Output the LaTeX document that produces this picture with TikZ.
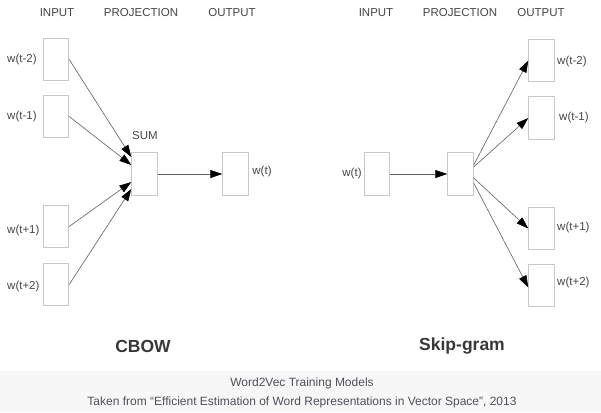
\documentclass[tikz,border=0pt]{standalone}
\usepackage{fontspec}
\setmainfont{Liberation Sans}
\usetikzlibrary{arrows.meta}
\definecolor{boxline}{RGB}{200,200,200}
\definecolor{conncol}{RGB}{95,95,95}
\definecolor{txt}{RGB}{70,70,70}
\definecolor{capbg}{RGB}{247,247,247}
\definecolor{captxt}{RGB}{80,80,90}
\tikzset{
  vec/.style={draw=boxline, line width=0.9bp, minimum width=25.5bp, minimum height=42.5bp, inner sep=0pt},
  lbl/.style={text=txt, font=\fontsize{11.5bp}{13bp}\selectfont, inner sep=0pt},
  ttl/.style={text=txt!80!black, font=\fontsize{17.5bp}{20bp}\selectfont\bfseries, inner sep=0pt},
  captext/.style={text=captxt, font=\fontsize{12bp}{14bp}\selectfont, inner sep=0pt},
  arrowline/.style={draw=conncol, line width=0.6bp, -{Triangle[length=12bp,width=8bp,color=black]}}
}
\begin{document}
\begin{tikzpicture}[x=1bp,y=-1bp]
\useasboundingbox (0,0) rectangle (601,412);
\fill[white] (0,0) rectangle (601,412);
\fill[capbg] (0,371) rectangle (601,412);
% headers
\node[lbl] (hin1) at (57,13) {INPUT};
\node[lbl] (hpr1) at (141,13) {PROJECTION};
\node[lbl] (hout1) at (232,13) {OUTPUT};
\node[lbl] (hin2) at (376,13) {INPUT};
\node[lbl] (hpr2) at (460,13) {PROJECTION};
\node[lbl] (hout2) at (541,13) {OUTPUT};
% CBOW
\node[vec] (in1) at (56,59.5) {};
\node[vec] (in2) at (56,116.5) {};
\node[vec] (in3) at (56,226.5) {};
\node[vec] (in4) at (56,284.5) {};
\node[vec] (sum) at (144.5,174) {};
\node[vec] (out) at (235.5,174) {};
\node[lbl, anchor=west] (lin1) at (7,59.5) {w(t-2)};
\node[lbl, anchor=west] (lin2) at (7,117) {w(t-1)};
\node[lbl, anchor=west] (lin3) at (7,231) {w(t+1)};
\node[lbl, anchor=west] (lin4) at (7,287) {w(t+2)};
\node[lbl] (lsum) at (145,136) {SUM};
\node[lbl] (lout) at (262,172) {w(t)};
\draw[arrowline] (in1.east) -- ([yshift=17bp]sum.west);
\draw[arrowline] (in2.east) -- ([yshift=9bp]sum.west);
\draw[arrowline] (in3.east) -- ([yshift=-8bp]sum.west);
\draw[arrowline] (in4.east) -- ([yshift=-15bp]sum.west);
\draw[arrowline] (sum.east) -- (out.west);
\node[ttl] (tcbow) at (143,346) {CBOW};
% Skip-gram
\node[vec] (sin) at (377,174) {};
\node[vec] (spr) at (460.5,174) {};
\node[vec] (so1) at (541.5,60.5) {};
\node[vec] (so2) at (541.5,118) {};
\node[vec] (so3) at (541.5,228.5) {};
\node[vec] (so4) at (541.5,285.5) {};
\node[lbl] (lsin) at (352,174) {w(t)};
\node[lbl, anchor=west] (lso1) at (557,62) {w(t-2)};
\node[lbl, anchor=west] (lso2) at (559,118) {w(t-1)};
\node[lbl, anchor=west] (lso3) at (557,228) {w(t+1)};
\node[lbl, anchor=west] (lso4) at (557,283) {w(t+2)};
\draw[arrowline] (sin.east) -- (spr.west);
\draw[arrowline] ([yshift=9bp]spr.east) -- (so1.west);
\draw[arrowline] ([yshift=7bp]spr.east) -- (so2.west);
\draw[arrowline] ([yshift=-4bp]spr.east) -- (so3.west);
\draw[arrowline] ([yshift=-9bp]spr.east) -- ([yshift=-2bp]so4.west);
\node[ttl] (tskip) at (462,346) {Skip-gram};
% caption
\node[captext] (cap1) at (302,383) {Word2Vec Training Models};
\node[captext] (cap2) at (302,402) {Taken from “Efficient Estimation of Word Representations in Vector Space\symbol{"22}, 2013};
\end{tikzpicture}
\end{document}
